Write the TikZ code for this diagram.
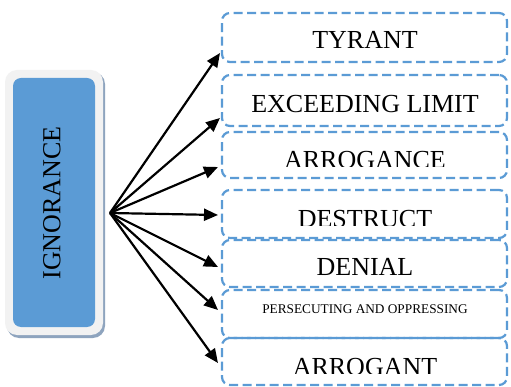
\documentclass[tikz,border=0pt]{standalone}
\usepackage{fontspec}
\setmainfont{Liberation Serif}
\usetikzlibrary{arrows.meta}
\definecolor{dashblue}{HTML}{5B9BD5}
\definecolor{fillblue}{HTML}{5B9BD5}
\definecolor{framegray}{HTML}{F2F2F2}
\definecolor{shadowgray}{HTML}{8EA4BE}
\begin{document}
\begin{tikzpicture}[x=1pt,y=-1pt,
  optbox/.style={draw=dashblue, line width=2.2pt, dash pattern=on 9pt off 4.5pt,
    rounded corners=8pt, minimum width=285pt, inner sep=0pt},
  lbl/.style={anchor=base, inner sep=0pt, font=\fontsize{26}{26}\selectfont},
  arr/.style={-{Triangle[length=14pt,width=12pt]}, line width=2.2pt}]
\useasboundingbox (0,0) rectangle (511,387);
\fill[white] (0,0) rectangle (511,387);
% left box
\fill[shadowgray, rounded corners=12pt] (7,72) rectangle (105,338);
\fill[framegray, rounded corners=12pt] (5,70) rectangle (103,335);
\node[fill=fillblue, rounded corners=8pt, minimum width=82pt, minimum height=249pt,
  inner sep=0pt] (ign) at (54,202.5) {};
\node[rotate=90, inner sep=0pt, font=\fontsize{26}{26}\selectfont] (ignt) at (52,203) {IGNORANCE};
% right boxes
\node[optbox, minimum height=49pt] (b1) at (364.5,37.5) {};
\node[optbox, minimum height=51pt] (b2) at (364.5,100.5) {};
\node[optbox, minimum height=46pt] (b3) at (364.5,155) {};
\node[optbox, minimum height=48pt] (b4) at (364.5,214) {};
\node[optbox, minimum height=47pt] (b5) at (364.5,263.5) {};
\node[optbox, minimum height=48pt] (b6) at (364.5,314) {};
\node[optbox, minimum height=47pt] (b7) at (364.5,361.5) {};
% labels
\node[lbl] (t1) at (365,48.5) {TYRANT};
\node[lbl] (t2) at (365,112.5) {EXCEEDING LIMIT};
\begin{scope}
\clip (222,130) rectangle (507,166.5);
\node[lbl] (t3) at (365,168.5) {ARROGANCE};
\end{scope}
\begin{scope}
\clip (222,190) rectangle (507,225.7);
\node[lbl] (t4) at (365,227.5) {DESTRUCT};
\end{scope}
\node[lbl] (t5) at (365,276) {DENIAL};
\node[lbl, font=\fontsize{13.3}{13.3}\selectfont] (t6) at (365,313.5) {PERSECUTING AND OPPRESSING};
\begin{scope}
\clip (222,340) rectangle (507,373.6);
\node[lbl] (t7) at (365,375.5) {ARROGANT};
\end{scope}
% arrows
\coordinate (src) at (110,213);
\coordinate (e1) at (220,53);
\coordinate (e2) at (220,118);
\coordinate (e3) at (218,167);
\coordinate (e4) at (218,215);
\coordinate (e5) at (218,267);
\coordinate (e6) at (218,310);
\coordinate (e7) at (218,363);
\foreach \i in {1,...,7} { \draw[arr] (src) -- (e\i); }
\end{tikzpicture}
\end{document}
